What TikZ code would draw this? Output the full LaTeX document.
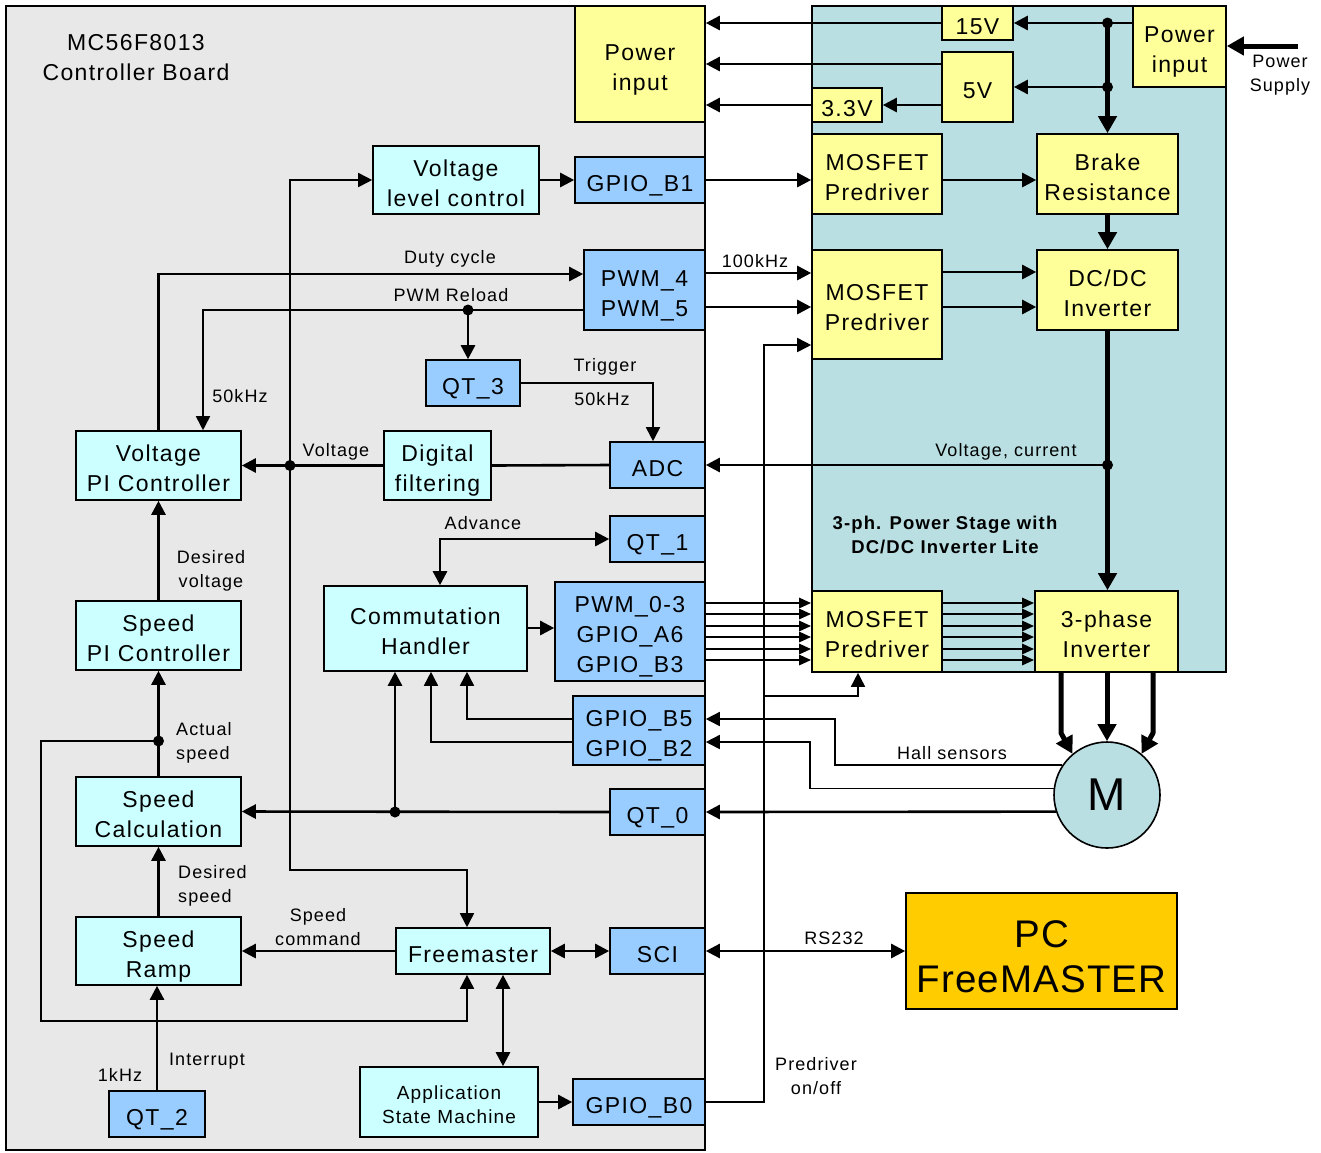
\documentclass[tikz,border=0pt]{standalone}
\usepackage{fontspec}
\setmainfont{Liberation Sans}[LetterSpace=6]
\usetikzlibrary{arrows.meta,calc}
\definecolor{boardgray}{HTML}{E8E8E8}
\definecolor{stageteal}{HTML}{B9DFE2}
\definecolor{ybox}{HTML}{FFFF99}
\definecolor{cbox}{HTML}{CCFFFF}
\definecolor{bbox}{HTML}{99CCFF}
\definecolor{obox}{HTML}{FFCC00}
\newcommand\mkbox[7]{\node[#1,minimum width={#4-#2},minimum height={#5-#3}] (#6) at ({(#2+#4)/2},{(#3+#5)/2}) {\rule{0pt}{1.2em}#7\rule[-0.22em]{0pt}{0.22em}}}
\begin{document}
\begin{tikzpicture}[x=1pt,y=-1pt,
  blk/.style={draw=black, line width=1.6pt, inner sep=0pt, align=center, font=\fontsize{23}{30}\selectfont},
  yel/.style={blk, fill=ybox}, cya/.style={blk, fill=cbox}, blu/.style={blk, fill=bbox},
  pcbox/.style={blk, fill=obox, font=\fontsize{38.5}{45}\selectfont\addfontfeatures{LetterSpace=3}},
  asmbox/.style={blk, fill=cbox, font=\fontsize{19}{24}\selectfont},
  lbl/.style={font=\fontsize{18}{24}\selectfont, align=center, inner sep=0pt},
  ln/.style={line width=2.6pt},
  tn/.style={line width=1.7pt},
  tk/.style={line width=5pt},
  arr/.style={-{Triangle[length=14pt,width=14pt]}},
  darr/.style={{Triangle[length=14pt,width=14pt]}-{Triangle[length=14pt,width=14pt]}},
  sarr/.style={-{Triangle[length=12pt,width=10pt]}},
  tarr/.style={-{Triangle[length=17pt,width=18pt]}},
  dot/.style={circle, fill=black, inner sep=0pt, minimum size=11pt}
]
\useasboundingbox (0,0) rectangle (1321,1152);
\draw[line width=1.6pt, fill=boardgray] (6,6) rectangle (705,1150);
\draw[line width=1.6pt, fill=stageteal] (812,6) rectangle (1226,672);

% nodes
\node[font=\fontsize{23}{30}\selectfont, align=center, inner sep=0pt] (title) at (136,58) {MC56F8013\\Controller Board};
\mkbox{yel}{575}{6}{705}{122}{pinL}{Power\\input};
\mkbox{yel}{942}{6}{1013}{40}{v15}{15V};
\mkbox{yel}{942}{52}{1013}{122}{v5}{5V};
\mkbox{yel}{812}{88}{882}{122}{v33}{3.3V};
\mkbox{yel}{1133}{6}{1226}{87}{pinR}{Power\\input};
\mkbox{cya}{373}{146}{539}{214}{vlc}{Voltage\\level control};
\mkbox{blu}{575}{157}{705}{203}{gb1}{GPIO\_B1};
\mkbox{yel}{812}{134}{942}{214}{mos1}{MOSFET\\Predriver};
\mkbox{yel}{1037}{134}{1178}{214}{brake}{Brake\\Resistance};
\mkbox{blu}{584}{250}{705}{330}{pwm45}{PWM\_4\\PWM\_5};
\mkbox{yel}{812}{250}{942}{359}{mos2}{MOSFET\\Predriver};
\mkbox{yel}{1037}{250}{1178}{330}{dcdc}{DC/DC\\Inverter};
\mkbox{blu}{426}{360}{520}{406}{qt3}{QT\_3};
\mkbox{blu}{610}{442}{705}{488}{adc}{ADC};
\mkbox{cya}{76}{431}{241}{500}{vpi}{Voltage\\PI Controller};
\mkbox{cya}{384}{431}{491}{500}{df}{Digital\\filtering};
\mkbox{blu}{610}{516}{705}{562}{qt1}{QT\_1};
\mkbox{cya}{324}{586}{527}{671}{ch}{Commutation\\Handler};
\mkbox{blu}{555}{582}{705}{681}{pwm03}{PWM\_0-3\\GPIO\_A6\\GPIO\_B3};
\mkbox{yel}{812}{591}{942}{672}{mos3}{MOSFET\\Predriver};
\mkbox{yel}{1035}{591}{1178}{672}{inv3}{3-phase\\Inverter};
\mkbox{cya}{76}{601}{241}{670}{spi}{Speed\\PI Controller};
\mkbox{blu}{573}{696}{705}{765}{gb52}{GPIO\_B5\\GPIO\_B2};
\node[circle, draw, line width=1.6pt, fill=stageteal, minimum size=106pt, inner sep=0pt, font=\fontsize{46}{46}\selectfont] (m) at (1107,795) {M};
\mkbox{cya}{76}{777}{241}{846}{sc}{Speed\\Calculation};
\mkbox{blu}{610}{789}{705}{835}{qt0}{QT\_0};
\mkbox{cya}{76}{917}{241}{985}{sr}{Speed\\Ramp};
\mkbox{cya}{396}{928}{550}{974}{fm}{Freemaster};
\mkbox{blu}{610}{928}{705}{974}{sci}{SCI};
\mkbox{pcbox}{906}{893}{1177}{1009}{pc}{PC\\FreeMASTER};
\mkbox{asmbox}{360}{1067}{538}{1137}{asm}{Application\\State Machine};
\mkbox{blu}{573}{1079}{705}{1125}{gb0}{GPIO\_B0};
\mkbox{blu}{109}{1091}{205}{1137}{qt2}{QT\_2};

% power
\coordinate (j15) at (brake.north |- v15);
\coordinate (j5) at (brake.north |- v5);
\draw[ln,arr] (pinR.west |- v15) -- (v15.east);
\draw[tk,tarr] (j15) -- (brake.north);
\draw[ln,arr] (j5) -- (v5.east);
\node[dot] (d15) at (j15) {};
\node[dot] (d5) at (j5) {};
\draw[ln,arr] (v15.west) -- (pinL.east |- v15);
\draw[ln,arr] (v5.west |- 0,64) -- (pinL.east |- 0,64);
\draw[ln,arr] (v5.west |- v33) -- (v33.east);
\draw[ln,arr] (v33.west) -- (pinL.east |- v33);
\coordinate (psup) at (1298,46);
\draw[tk,tarr] (psup) -- (pinR.east |- psup);
\node[lbl] (lps) at (1280,75) {Power\\Supply};

% GPIO_B1 chain
\draw[ln,arr] (vlc.east) -- (gb1.west);
\draw[ln,arr] (gb1.east) -- (mos1.west |- gb1);
\draw[ln,arr] (mos1.east |- gb1) -- (brake.west |- gb1);
\draw[tk,tarr] (brake.south) -- (dcdc.north);

% PWM 4/5
\draw[ln,arr] (pwm45.east |- 0,273) -- (mos2.west |- 0,273);
\draw[ln,arr] (pwm45.east |- 0,307) -- (mos2.west |- 0,307);
\draw[ln,arr] (mos2.east |- 0,272) -- (dcdc.west |- 0,272);
\draw[ln,arr] (mos2.east |- 0,307) -- (dcdc.west |- 0,307);
\node[lbl] (l100) at (755,261) {100kHz};
\coordinate (jvc) at (dcdc.south |- adc);
\draw[tk,tarr] (dcdc.south) -- (dcdc.south |- inv3.north);
\draw[ln,arr] (jvc) -- (adc.east);
\node[dot] (dvc) at (jvc) {};
\node[lbl] (lvc) at (1006,452) {Voltage, current};
\node[font=\bfseries\fontsize{18.5}{24}\selectfont, align=center, inner sep=0pt] (lstage) at (945,535) {3-ph. Power Stage with\\DC/DC Inverter Lite};

% duty cycle / reload
\draw[ln,arr] (vpi.north) |- (pwm45.west |- 0,274);
\node[lbl] (lduty) at (450,259) {Duty cycle};
\coordinate (rl) at (468,310);
\draw[tn,arr] (pwm45.west |- rl) -| (vpi.north -| 203,0);
\draw[ln,arr] (rl) -- (qt3.north -| rl);
\node[dot] (drl) at (rl) {};
\node[lbl] (lrel) at (451,295) {PWM Reload};
\node[lbl] (l50a) at (240,396) {50kHz};
\draw[tn,arr] (qt3.east) -| (adc.north -| 653,0);
\node[lbl] (ltrig) at (605,367) {Trigger};
\node[lbl] (l50b) at (602,399) {50kHz};
\draw[ln] (adc.west) -- (df.east);
\draw[ln,arr] (df.west) -- (vpi.east);
\node[lbl] (lvolt) at (336,452) {Voltage};
\coordinate (vj) at (vpi.east -| 290,0);
\draw[tn,arr] (vj) |- (vlc.west);
\draw[tn,arr] (vj) -- (vj |- 0,870) -| (fm.north -| 467,0);
\node[dot] (dvj) at (vj) {};

% predriver on/off
\coordinate (pd) at (764,345);
\coordinate (pdb) at (764,696);
\draw[tn,arr] (gb0.east) -| (pd) -- (mos2.west |- pd);
\draw[tn,arr] (pdb) -| (mos3.south -| 858,0);
\node[lbl] (lpd) at (816,1076) {Predriver\\on/off};

% commutation
\draw[ln,darr] (ch.north -| 440,0) |- (qt1.west);
\node[lbl] (ladv) at (483,523) {Advance};
\draw[ln,arr] (ch.east |- 0,628) -- (pwm03.west |- 0,628);
\foreach \yy in {603,614,626,637,649,660} {
  \draw[ln,sarr] (pwm03.east |- 0,\yy) -- (mos3.west |- 0,\yy);
  \draw[ln,sarr] (mos3.east |- 0,\yy) -- (inv3.west |- 0,\yy);
}

% hall sensors
\draw[tn,arr] (gb52.west |- 0,719) -| (ch.south -| 467,0);
\draw[tn,arr] (gb52.west |- 0,742) -| (ch.south -| 431,0);
\draw[tn,arr] (m.146.8) -| (835,719) -- (gb52.east |- 0,719);
\draw[tn,arr] (m.173.5) -| (810,742) -- (gb52.east |- 0,742);
\node[lbl] (lhall) at (952,753) {Hall sensors};

% QT_0
\draw[ln,arr] (m.198.7) -- (qt0.east);
\draw[ln,arr] (qt0.west) -- (sc.east);
\coordinate (qj) at (qt0.west -| 395,0);
\draw[ln,arr] (qj) -- (ch.south -| qj);
\node[dot] (dqj) at (qj) {};

% inverter to motor
\draw[tk,tarr,line join=round] (inv3.south -| 1061,0) -- (1061,733) -- (m.130);
\draw[tk,tarr] (inv3.south -| m.north) -- (m.north);
\draw[tk,tarr,line join=round] (inv3.south -| 1153,0) -- (1153,733) -- (m.50);

% left column
\draw[ln,arr] (spi.north) -- (vpi.south);
\draw[ln,arr] (sc.north) -- (spi.south);
\coordinate (aj) at (sc.north |- 0,741);
\draw[tn,arr] (aj) -- (41,741) -- (41,1021) -| (fm.south -| 467,0);
\node[dot] (daj) at (aj) {};
\node[lbl] (ldv) at (211,571) {Desired\\voltage};
\node[lbl, anchor=west, align=left] (las) at (176,743) {Actual\\speed};
\draw[ln,arr] (sr.north) -- (sc.south);
\node[lbl, anchor=west, align=left] (lds) at (178,886) {Desired\\speed};
\draw[ln,arr] (qt2.north) -- (qt2.north |- sr.south);
\node[lbl] (lint) at (207,1061) {Interrupt};
\node[lbl] (l1k) at (120,1075) {1kHz};
\draw[ln,arr] (fm.west) -- (sr.east);
\node[lbl] (lsc) at (318,927) {Speed\\command};
\draw[ln,darr] (fm.east) -- (sci.west);
\draw[ln,darr] (sci.east) -- (pc.west |- sci);
\node[lbl] (lrs) at (834,938) {RS232};
\draw[ln,darr] (fm.south -| 503,0) -- (asm.north -| 503,0);
\draw[ln,arr] (asm.east) -- (gb0.west);
\end{tikzpicture}
\end{document}
